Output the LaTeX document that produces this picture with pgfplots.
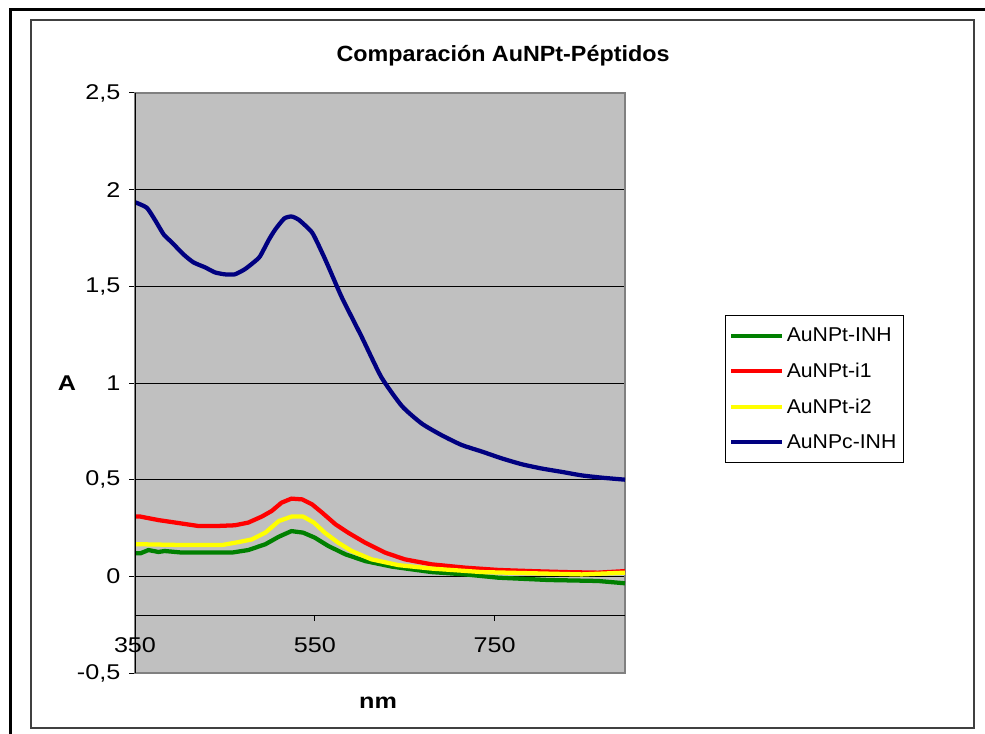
\documentclass[border=0pt]{standalone}
\usepackage{pgfplots}
\pgfplotsset{compat=1.18}
\usepackage{fontspec}
\setmainfont{Liberation Sans}
\newfontfamily\tickfont[FakeStretch=1.18]{Liberation Sans}
\newfontfamily\widefont[FakeStretch=1.06]{Liberation Sans}
\definecolor{plotgray}{RGB}{192,192,192}
\definecolor{bordergray}{RGB}{128,128,128}
\definecolor{framegray}{RGB}{64,64,64}
\definecolor{xlgreen}{RGB}{0,128,0}
\definecolor{xlred}{RGB}{255,0,0}
\definecolor{xlyellow}{RGB}{255,255,0}
\definecolor{xlnavy}{RGB}{0,0,128}
\begin{document}
\begin{tikzpicture}[x=0.75pt,y=0.75pt]
% page and frames (pixel units, y up)
\path[use as bounding box] (0,0) rectangle (985,733);
\draw[black, line width=2.4pt] (10.5,-5) -- (10.5,723.5) -- (990,723.5);
\draw[framegray, line width=1.5pt] (30.5,5.5) rectangle (974,713);

\begin{axis}[
    at={(101.25pt,45pt)}, anchor=south west,
    scale only axis, width=367.5pt, height=435pt,
    xmin=350, xmax=895, ymin=-0.5, ymax=2.5,
    xtick=\empty,
    ytick={-0.5,0,0.5,1,1.5,2,2.5},
    ytick pos=left, tick align=outside, major tick length=4.5pt,
    tick style={black, line width=0.75pt},
    ymajorgrids, grid style={black, line width=0.75pt},
    axis background/.style={fill=plotgray},
    axis line style={bordergray, line width=1.5pt},
    yticklabel style={font=\tickfont\fontsize{16}{19}\selectfont, xshift=-3pt,
        /pgf/number format/use comma},
    /pgf/number format/assume math mode=true,
    legend style={at={(1.204,0.617)}, anchor=north west, draw=black, fill=white,
        line width=0.75pt, font=\widefont\fontsize{15}{18}\selectfont,
        row sep=10.5pt, inner xsep=3pt, inner ysep=7pt},
    legend cell align=left,
    legend image code/.code={\draw[#1, line width=3pt] (0pt,0pt) -- (38pt,0pt);},
    every axis plot/.append style={line width=3.2pt, mark=none, line join=round},
]
\addplot[xlgreen] coordinates {
(350,0.119)(356,0.119)(365,0.136)(376,0.126)(383,0.131)(402,0.123)(458,0.123)
(476,0.136)(495,0.166)(510,0.205)(524,0.234)(537,0.226)(550,0.200)(565,0.157)
(584,0.114)(606,0.079)(636,0.050)(680,0.022)(717,0.010)(754,-0.007)(810,-0.019)
(865,-0.024)(895,-0.036)};
\addlegendentry{AuNPt-INH}
\addplot[xlred] coordinates {
(350,0.309)(356,0.309)(376,0.291)(395,0.278)(421,0.260)(439,0.260)(461,0.264)
(476,0.278)(491,0.309)(502,0.338)(513,0.381)(524,0.402)(536,0.398)(547,0.372)
(558,0.330)(573,0.269)(587,0.226)(606,0.174)(628,0.123)(650,0.088)(680,0.062)
(717,0.045)(754,0.033)(791,0.027)(828,0.022)(865,0.019)(895,0.027)};
\addlegendentry{AuNPt-i1}
\addplot[xlyellow] coordinates {
(350,0.166)(356,0.166)(402,0.162)(447,0.162)(465,0.177)(480,0.191)(495,0.226)
(510,0.286)(524,0.309)(537,0.309)(549,0.278)(561,0.226)(576,0.174)(591,0.131)
(613,0.088)(643,0.058)(680,0.040)(736,0.022)(791,0.016)(847,0.010)(895,0.019)};
\addlegendentry{AuNPt-i2}
\addplot[xlnavy, smooth, tension=0.35] coordinates {
(350,1.935)(363,1.907)(372,1.845)(382,1.768)(391,1.727)(404,1.665)(415,1.624)
(428,1.598)(439,1.572)(450,1.562)(461,1.562)(472,1.588)(482,1.624)(489,1.655)
(499,1.742)(506,1.794)(516,1.851)(524,1.861)(532,1.845)(547,1.778)(558,1.675)
(565,1.603)(580,1.443)(602,1.240)(624,1.030)(647,0.880)(669,0.790)(691,0.730)
(713,0.680)(736,0.645)(758,0.610)(780,0.580)(802,0.558)(825,0.540)(847,0.522)
(870,0.510)(895,0.500)};
\addlegendentry{AuNPc-INH}
\draw[black, line width=1.5pt] (rel axis cs:0,0) -- (rel axis cs:0,1);
\end{axis}

% horizontal axis crossing at -0.2
\begin{axis}[
    at={(101.25pt,88.5pt)}, anchor=south west,
    scale only axis, width=367.5pt, height=391.5pt,
    xmin=350, xmax=895, ymin=-0.2, ymax=2.5,
    axis x line*=bottom, axis y line=none,
    xtick={350,550,750},
    tick align=outside, major tick length=4.5pt,
    tick style={black, line width=0.75pt},
    axis line style={black, line width=0.75pt},
    xticklabel style={font=\tickfont\fontsize{16}{19}\selectfont, yshift=-9pt},
    /pgf/number format/assume math mode=true,
]
\end{axis}

\node[font=\bfseries\widefont\fontsize{16.5}{20}\selectfont] at (503,677) {Comparación AuNPt-Péptidos};
\node[font=\bfseries\tickfont\fontsize{16}{19}\selectfont] at (67,350) {A};
\node[font=\bfseries\tickfont\fontsize{16}{19}\selectfont] at (378,30) {nm};
\end{tikzpicture}
\end{document}
